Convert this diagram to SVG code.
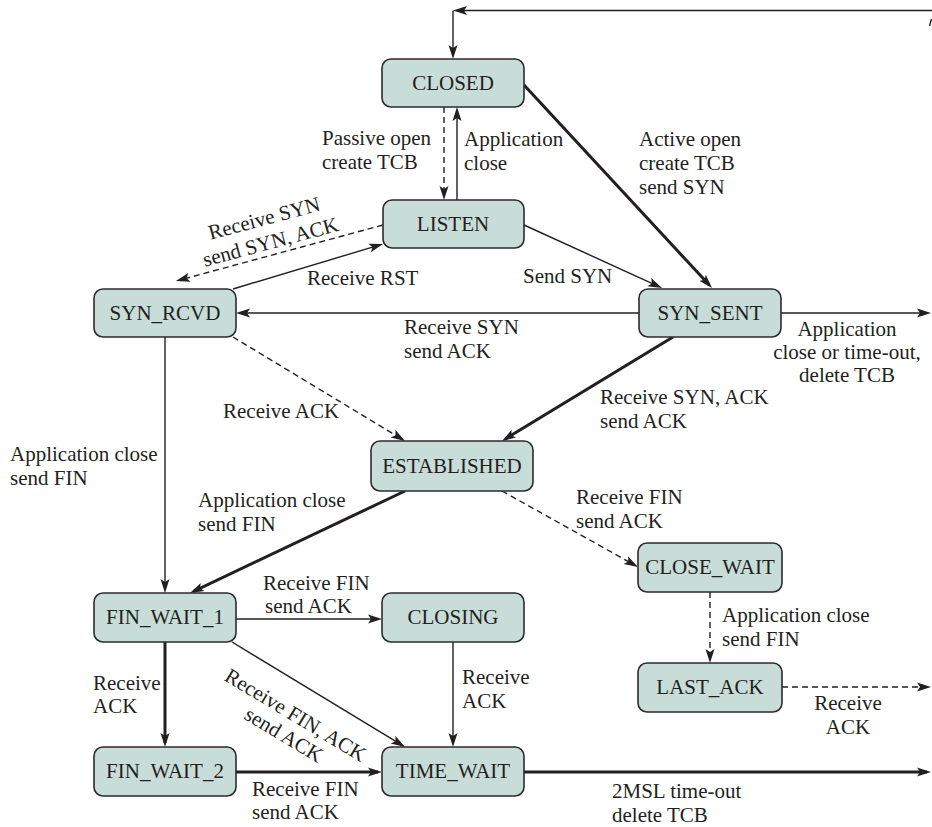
<svg xmlns="http://www.w3.org/2000/svg" width="932" height="827" viewBox="0 0 932 827">
<style>
.node rect{fill:#c8dcd8;stroke:#2b2b2b;stroke-width:1.6}
.node text{font-family:"Liberation Serif","Times New Roman",serif;font-size:21px;fill:#231f20;text-anchor:middle}
.lbl{font-family:"Liberation Serif","Times New Roman",serif;font-size:21px;fill:#231f20}
.c{text-anchor:middle}
.e path{fill:none;stroke:#231f20}
.thin{stroke-width:1.4}
.thick{stroke-width:3}
.dash{stroke-width:1.4;stroke-dasharray:6 4}
</style>
<defs>
<marker id="ah" markerUnits="userSpaceOnUse" markerWidth="16" markerHeight="12" refX="10" refY="5" orient="auto" viewBox="0 0 16 12">
<path d="M0,0.5 L14,5 L0,9.5 L3,5 z" fill="#231f20"/>
</marker>
</defs>
<rect width="932" height="827" fill="#ffffff"/>

<g id="edges" class="e">
<path class="thin" d="M932,10.5 H457" marker-end="url(#ah)"/>
<path class="thin" d="M453,10.5 V55" marker-end="url(#ah)"/>
<path class="thin" d="M929.5,26 L931.5,19"/>
<path class="dash" d="M444,107 V196" marker-end="url(#ah)"/>
<path class="thin" d="M457,200 V111" marker-end="url(#ah)"/>
<path class="thick" d="M524,85 L709.3,285.1" marker-end="url(#ah)"/>
<path class="thin" d="M524,225 L658.4,286.3" marker-end="url(#ah)"/>
<path class="dash" d="M383,225 L179.8,280" marker-end="url(#ah)"/>
<path class="thin" d="M233,289 L379.2,245.1" marker-end="url(#ah)"/>
<path class="thin" d="M639,313 H240" marker-end="url(#ah)"/>
<path class="thin" d="M781,313 H927" marker-end="url(#ah)"/>
<path class="dash" d="M233,337 L401.6,438.9" marker-end="url(#ah)"/>
<path class="thick" d="M673,337 L505.4,438.9" marker-end="url(#ah)"/>
<path class="thin" d="M165,337 V589" marker-end="url(#ah)"/>
<path class="thick" d="M405,491 L193.6,591.3" marker-end="url(#ah)"/>
<path class="dash" d="M502,491 L634.5,565" marker-end="url(#ah)"/>
<path class="dash" d="M710,592 V659" marker-end="url(#ah)"/>
<path class="dash" d="M782,687 H927" marker-end="url(#ah)"/>
<path class="thin" d="M236,619 H378" marker-end="url(#ah)"/>
<path class="thick" d="M165,642 V743" marker-end="url(#ah)"/>
<path class="thin" d="M232,642 L401.6,744.9" marker-end="url(#ah)"/>
<path class="thin" d="M453,642 V743" marker-end="url(#ah)"/>
<path class="thick" d="M236,772 H378" marker-end="url(#ah)"/>
<path class="thick" d="M524,772 H927" marker-end="url(#ah)"/>
</g>

<g id="labels" class="lbl">
<text x="322" y="145">Passive open</text>
<text x="322" y="169">create TCB</text>
<text x="464" y="146">Application</text>
<text x="464" y="170">close</text>
<text x="639" y="146">Active open</text>
<text x="639" y="170">create TCB</text>
<text x="639" y="194">send SYN</text>
<g transform="translate(266,225) rotate(-15)">
<text class="c" x="0" y="0">Receive SYN</text>
<text class="c" x="0" y="24.5">send SYN, ACK</text>
</g>
<text x="307" y="285">Receive RST</text>
<text x="523" y="283">Send SYN</text>
<text x="404" y="334">Receive SYN</text>
<text x="404" y="358">send ACK</text>
<text class="c" x="847" y="336">Application</text>
<text class="c" x="847" y="359">close or time-out,</text>
<text class="c" x="847" y="382">delete TCB</text>
<text x="223" y="418">Receive ACK</text>
<text x="600" y="404">Receive SYN, ACK</text>
<text x="600" y="428">send ACK</text>
<text x="10" y="461">Application close</text>
<text x="10" y="485">send FIN</text>
<text x="198" y="507">Application close</text>
<text x="198" y="531">send FIN</text>
<text x="576" y="504">Receive FIN</text>
<text x="576" y="528">send ACK</text>
<text x="722" y="622">Application close</text>
<text x="722" y="646">send FIN</text>
<text x="263" y="590">Receive FIN</text>
<text x="265" y="613">send ACK</text>
<text x="93" y="690">Receive</text>
<text x="93" y="713">ACK</text>
<text x="462" y="684">Receive</text>
<text x="462" y="708">ACK</text>
<g transform="translate(292,721) rotate(31)">
<text class="c" x="0" y="0">Receive FIN, ACK</text>
<text class="c" x="0" y="23">send ACK</text>
</g>
<text class="c" x="848" y="710">Receive</text>
<text class="c" x="848" y="734">ACK</text>
<text x="252" y="796">Receive FIN</text>
<text x="252" y="819">send ACK</text>
<text x="612" y="798">2MSL time-out</text>
<text x="612" y="822">delete TCB</text>
</g>

<g id="CLOSED" class="node"><rect x="382" y="59" width="142" height="48" rx="9"/><text x="453" y="90">CLOSED</text></g>
<g id="LISTEN" class="node"><rect x="383" y="200" width="141" height="48" rx="9"/><text x="453" y="231">LISTEN</text></g>
<g id="SYN_RCVD" class="node"><rect x="94" y="289" width="142" height="48" rx="9"/><text x="165" y="320">SYN_RCVD</text></g>
<g id="SYN_SENT" class="node"><rect x="639" y="289" width="142" height="48" rx="9"/><text x="710" y="320">SYN_SENT</text></g>
<g id="ESTABLISHED" class="node"><rect x="371" y="441" width="162" height="50" rx="9"/><text x="452" y="473">ESTABLISHED</text></g>
<g id="CLOSE_WAIT" class="node"><rect x="638" y="543" width="144" height="49" rx="9"/><text x="710" y="574">CLOSE_WAIT</text></g>
<g id="LAST_ACK" class="node"><rect x="638" y="663" width="144" height="49" rx="9"/><text x="710" y="694">LAST_ACK</text></g>
<g id="FIN_WAIT_1" class="node"><rect x="94" y="593" width="142" height="49" rx="9"/><text x="165" y="624">FIN_WAIT_1</text></g>
<g id="CLOSING" class="node"><rect x="382" y="593" width="142" height="49" rx="9"/><text x="453" y="624">CLOSING</text></g>
<g id="FIN_WAIT_2" class="node"><rect x="94" y="747" width="142" height="49" rx="9"/><text x="165" y="778">FIN_WAIT_2</text></g>
<g id="TIME_WAIT" class="node"><rect x="382" y="747" width="142" height="49" rx="9"/><text x="453" y="778">TIME_WAIT</text></g>
</svg>
